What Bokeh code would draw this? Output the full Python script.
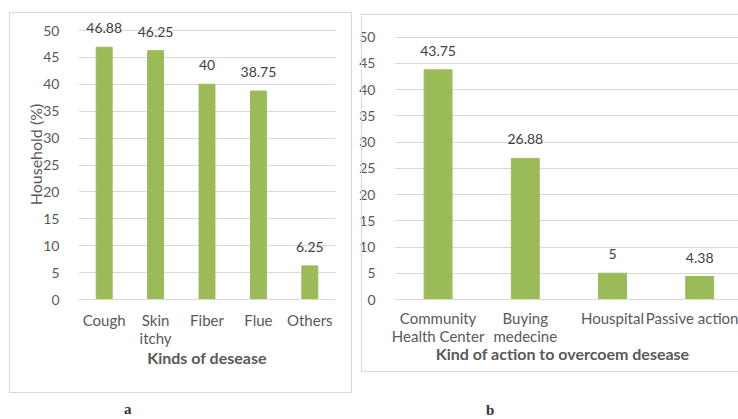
from bokeh.plotting import figure
from bokeh.layouts import row, column
from bokeh.models import Range1d, FactorRange, FixedTicker, ColumnDataSource, Div
from bokeh.core.properties import value
from bokeh.embed import file_html
from bokeh.resources import INLINE

# Panel a: kinds of disease
diseases = ["Cough", "Skin\nitchy", "Fiber", "Flue", "Others"]
disease_pct = [46.88, 46.25, 40, 38.75, 6.25]

# Panel b: kind of action
actions = ["Community\nHealth Center", "Buying\nmedecine", "Houspital", "Passive action"]
action_pct = [43.75, 26.88, 5, 4.38]

y_ticks = [0, 5, 10, 15, 20, 25, 30, 35, 40, 45, 50]

GREEN = "#9BBB59"
GRID = "#D9D9D9"
TXT = "#595959"
LBL = "#404040"
FONT = "Lato"


def fmt(v):
    return f"{v:g}"


def style(p):
    p.outline_line_color = None
    p.xgrid.visible = False
    p.ygrid.ticker = FixedTicker(ticks=y_ticks)
    p.ygrid.grid_line_color = GRID
    p.yaxis.ticker = FixedTicker(ticks=y_ticks)
    for ax in (p.xaxis[0], p.yaxis[0]):
        ax.major_tick_line_color = None
        ax.minor_tick_line_color = None
        ax.major_label_text_font = FONT
        ax.major_label_text_color = TXT
        ax.axis_label_text_font = FONT
        ax.axis_label_text_color = TXT
    p.yaxis.major_label_text_font_size = "14px"
    p.xaxis.major_label_text_font_size = "15px"
    p.xaxis.major_label_text_line_height = 1.0
    p.yaxis.axis_line_color = None
    p.xaxis.axis_line_color = GRID
    p.yaxis.major_label_standoff = 13
    p.xaxis.major_label_standoff = 5
    p.xaxis.axis_label_text_font_style = "bold"
    p.xaxis.axis_label_text_font_size = "16px"


# ---- panel a ----
src_a = ColumnDataSource(dict(cat=diseases, val=disease_pct,
                              lbl=[fmt(v) for v in disease_pct]))
p1 = figure(width=356, height=393, x_range=FactorRange(factors=diseases),
            y_range=Range1d(0, 290 / 5.38), output_backend="svg",
            toolbar_location=None, min_border_left=78, min_border_right=21,
            min_border_top=9, min_border_bottom=94)
p1.vbar(x="cat", top="val", width=0.31, source=src_a, color=GREEN)
p1.text(x="cat", y="val", text="lbl", source=src_a, y_offset=-14,
        text_align="center", text_baseline="bottom", text_font=value(FONT),
        text_font_size="14px", text_color=LBL)
style(p1)
p1.xaxis.axis_label = "Kinds of desease"
p1.xaxis.axis_label_standoff = -2
p1.yaxis.axis_label = "Household (%)"
p1.yaxis.axis_label_text_font_style = "normal"
p1.yaxis.axis_label_text_font_size = "16px"
p1.yaxis.axis_label_standoff = -5

# ---- panel b ----
xpos = [i + 0.5 for i in range(len(actions))]
src_b = ColumnDataSource(dict(x=xpos, val=action_pct,
                              lbl=[fmt(v) for v in action_pct]))
p2 = figure(width=382, height=393, x_range=Range1d(0, 346 / 87.7),
            y_range=Range1d(0, 295 / 5.34), output_backend="svg",
            toolbar_location=None, min_border_left=36, min_border_right=0,
            min_border_top=9, min_border_bottom=89)
p2.vbar(x="x", top="val", width=0.32, source=src_b, color=GREEN)
p2.text(x="x", y="val", text="lbl", source=src_b, y_offset=-14,
        text_align="center", text_baseline="bottom", text_font=value(FONT),
        text_font_size="14px", text_color=LBL)
style(p2)
p2.xaxis.ticker = FixedTicker(ticks=xpos)
p2.xaxis.major_label_overrides = dict(zip(xpos, actions))
p2.xaxis.major_label_standoff = 3
p2.xaxis.axis_label = "Kind of action  to overcoem  desease"
p2.xaxis.axis_label_standoff = -4

# panel letters under the two charts
letters = Div(
    width=738, height=26,
    text=('<div style="position:relative;width:738px;height:26px;">'
          '<span style="position:absolute;left:119px;top:3px;">a</span>'
          '<span style="position:absolute;left:481px;top:4px;">b</span>'
          '</div>'),
    styles={"font-family": "Liberation Serif", "font-weight": "bold",
            "font-size": "15px", "color": "#333333", "line-height": "17px"})

# thin grey frames around the two chart panels
panel_css = """
:host { position: relative; }
:host::before, :host::after {
  content: ""; position: absolute; box-sizing: border-box;
  border: 1px solid #D9D9D9; z-index: 5; pointer-events: none;
}
:host::before { left: 9px; top: 12px; width: 343px; height: 381px; }
:host::after { left: 361px; top: 14px; width: 377px; height: 358px; border-right: none; }
"""

layout = column(row(p1, p2), letters, stylesheets=[panel_css])
open("out.html", "w").write(file_html(layout, INLINE))
